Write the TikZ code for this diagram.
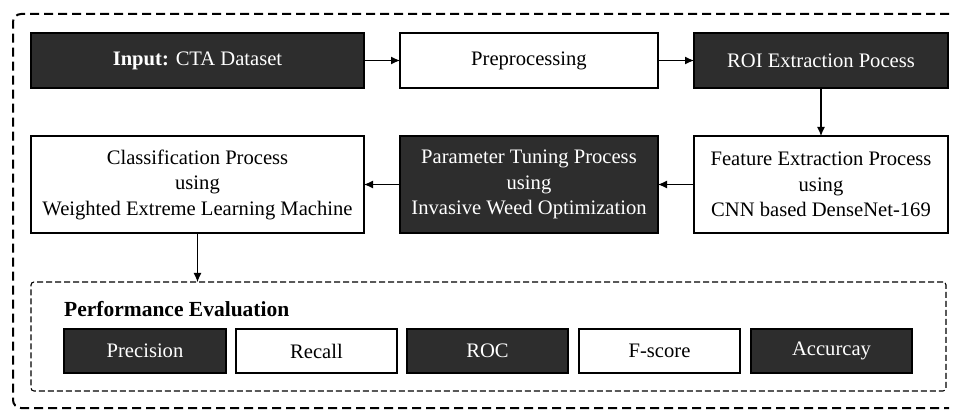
\documentclass[tikz,border=0pt]{standalone}
\usepackage{fontspec}
\setmainfont{Liberation Serif}
\usetikzlibrary{arrows.meta}
\definecolor{boxdark}{RGB}{45,45,45}
\tikzset{
  base/.style={draw=black, line width=1.1pt, inner sep=0pt, outer sep=0pt, align=center,
    font=\fontsize{20.6}{25.5}\selectfont},
  darkbox/.style={base, fill=boxdark, text=white},
  lightbox/.style={base, fill=white, text=black},
  arr/.style={-{Latex[length=9pt,width=8pt]}, line width=1.1pt, black},
  outerdash/.style={draw=black, line width=2pt, dash pattern=on 9pt off 5pt, rounded corners=8pt},
  innerdash/.style={draw=black, line width=1.1pt, dash pattern=on 6pt off 3pt, rounded corners=3pt},
}
\begin{document}
\begin{tikzpicture}[x=1pt,y=-1pt]
\useasboundingbox (0,0) rectangle (958,411);
\coordinate (otr) at (949,14);
\coordinate (obr) at (949,408);
\path[outerdash] (otr) -- (13,14) -- (13,408) -- (obr);
% top row
\node[darkbox, minimum width=333pt, minimum height=55pt] (in) at (197.5,60.5) {\textbf{Input:} CTA Dataset};
\node[lightbox, minimum width=258pt, minimum height=55pt] (pre) at (529,60.5) {Preprocessing};
\node[darkbox, minimum width=254pt, minimum height=55pt] (roi) at (821,60.5) {ROI Extraction Pocess};
% second row
\node[lightbox, minimum width=254pt, minimum height=97pt] (feat) at (821,184.5) {Feature Extraction Process\\using\\CNN based DenseNet-169};
\node[darkbox, minimum width=258pt, minimum height=97pt] (param) at (529,184.5) {Parameter Tuning Process\\using\\Invasive Weed Optimization};
\node[lightbox, minimum width=333pt, minimum height=97pt] (cls) at (197.5,184.5) {Classification Process\\using\\Weighted Extreme Learning Machine};
% performance evaluation
\node[innerdash, minimum width=915pt, minimum height=109pt, inner sep=0pt, outer sep=0pt] (perf) at (488.5,336.5) {};
\node[anchor=west, inner sep=0pt, font=\fontsize{21.5}{24}\selectfont\bfseries] (ttl) at (64,309) {Performance Evaluation};
\node[darkbox, minimum width=162pt, minimum height=44pt] (m1) at (145,351) {Precision};
\node[lightbox, minimum width=161pt, minimum height=44pt] (m2) at (316.5,351) {Recall};
\node[darkbox, minimum width=161pt, minimum height=44pt] (m3) at (487.5,351) {ROC};
\node[lightbox, minimum width=161pt, minimum height=44pt] (m4) at (659.5,351) {F-score};
\node[darkbox, minimum width=161pt, minimum height=44pt] (m5) at (831.5,351) {Accurcay};
% connectors
\draw[arr] (in) -- (pre);
\draw[arr] (pre) -- (roi);
\draw[arr] (roi) -- (feat);
\draw[arr] (feat) -- (param);
\draw[arr] (param) -- (cls);
\draw[arr] (cls.south) -- (cls.south |- perf.north);
\end{tikzpicture}
\end{document}
